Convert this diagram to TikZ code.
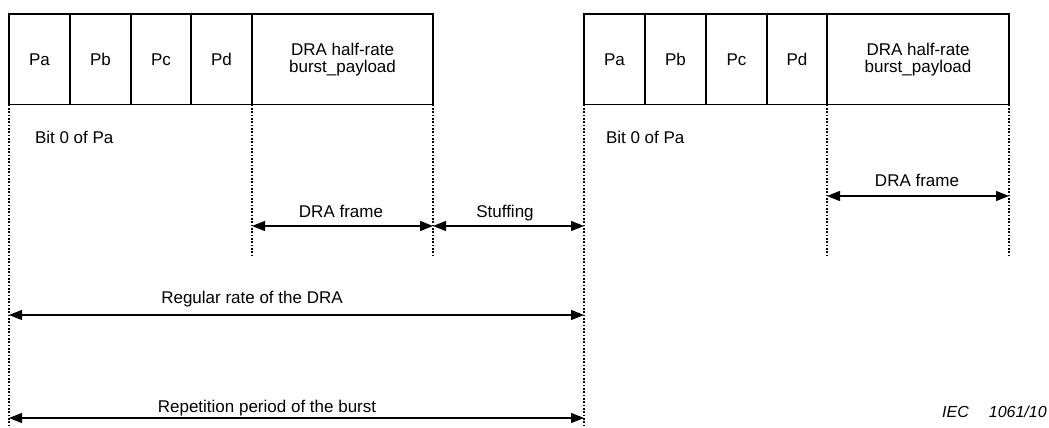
\documentclass[tikz,border=0pt]{standalone}
\usepackage{fontspec}
\setmainfont{Liberation Sans}
\usetikzlibrary{arrows.meta}
\begin{document}
\begin{tikzpicture}[x=0.75pt,y=-0.75pt,
  txt/.style={font=\fontsize{12.75pt}{12.75pt}\selectfont, inner sep=0pt, outer sep=0pt},
  cell/.style={txt, draw, line width=1pt, minimum height=67.9pt, anchor=north west, align=center},
  dotline/.style={line width=0.9pt, dash pattern=on 1.4pt off 1.1pt},
  dim/.style={line width=1pt, {Triangle[length=9.75pt,width=7.5pt]}-{Triangle[length=9.75pt,width=7.5pt]}},
  lbl/.style={txt, anchor=base},
  iec/.style={font=\fontsize{12pt}{12pt}\selectfont\itshape, inner sep=0pt, anchor=base east}]
\useasboundingbox (0,0) rectangle (1049,428);
% left burst
\node[cell, minimum width=45.75pt] (pa) at (9,14) {Pa};
\node[cell, minimum width=45.75pt] (pb) at (pa.north east) {Pb};
\node[cell, minimum width=45pt] (pc) at (pb.north east) {Pc};
\node[cell, minimum width=45.75pt] (pd) at (pc.north east) {Pd};
\node[cell, minimum width=135.75pt] (pay) at (pd.north east) {DRA half-rate\\burst\_payload};
% right burst
\node[cell, minimum width=45.75pt] (qa) at (584,14) {Pa};
\node[cell, minimum width=45.75pt] (qb) at (qa.north east) {Pb};
\node[cell, minimum width=45.75pt] (qc) at (qb.north east) {Pc};
\node[cell, minimum width=45pt] (qd) at (qc.north east) {Pd};
\node[cell, minimum width=136.5pt] (qay) at (qd.north east) {DRA half-rate\\burst\_payload};
% helper levels
\coordinate (bot) at (0,428);
\coordinate (mid) at (0,255);
\coordinate (yf) at (0,226);
\coordinate (yr) at (0,196);
\coordinate (yreg) at (0,315);
\coordinate (yrep) at (0,418);
% dotted guide lines
\draw[dotline] (pa.south west) -- (pa.south west |- bot);
\draw[dotline] (pay.south west) -- (pay.south west |- mid);
\draw[dotline] (pay.south east) -- (pay.south east |- mid);
\draw[dotline] (qa.south west) -- (qa.south west |- bot);
\draw[dotline] (qay.south west) -- (qay.south west |- mid);
\draw[dotline] (qay.south east) -- (qay.south east |- mid);
% arrow end points
\coordinate (f1l) at (pay.south west |- yf);
\coordinate (f1r) at (pay.south east |- yf);
\coordinate (s1r) at (qa.south west |- yf);
\coordinate (f2l) at (qay.south west |- yr);
\coordinate (f2r) at (qay.south east |- yr);
\coordinate (regl) at (pa.south west |- yreg);
\coordinate (regr) at (qa.south west |- yreg);
\coordinate (repl) at (pa.south west |- yrep);
\coordinate (repr) at (qa.south west |- yrep);
% dimension arrows
\draw[dim] (f1l) -- (f1r);
\draw[dim] (f1r) -- (s1r);
\draw[dim] (f2l) -- (f2r);
\draw[dim] (regl) -- (regr);
\draw[dim] (repl) -- (repr);
% labels
\node[txt, anchor=base west] (bit1) at (35,143) {Bit 0 of Pa};
\node[txt, anchor=base west] (bit2) at (606,143) {Bit 0 of Pa};
\node[lbl] (lf1) at (341,217) {DRA frame};
\node[lbl] (lst) at (505,217) {Stuffing};
\node[lbl] (lf2) at (917,186) {DRA frame};
\node[lbl] (lreg) at (252,303) {Regular rate of the DRA};
\node[lbl] (lrep) at (267,412) {Repetition period of the burst};
\node[iec] (iecno) at (1047,417) {IEC\hspace{15pt}1061/10};
\end{tikzpicture}
\end{document}
